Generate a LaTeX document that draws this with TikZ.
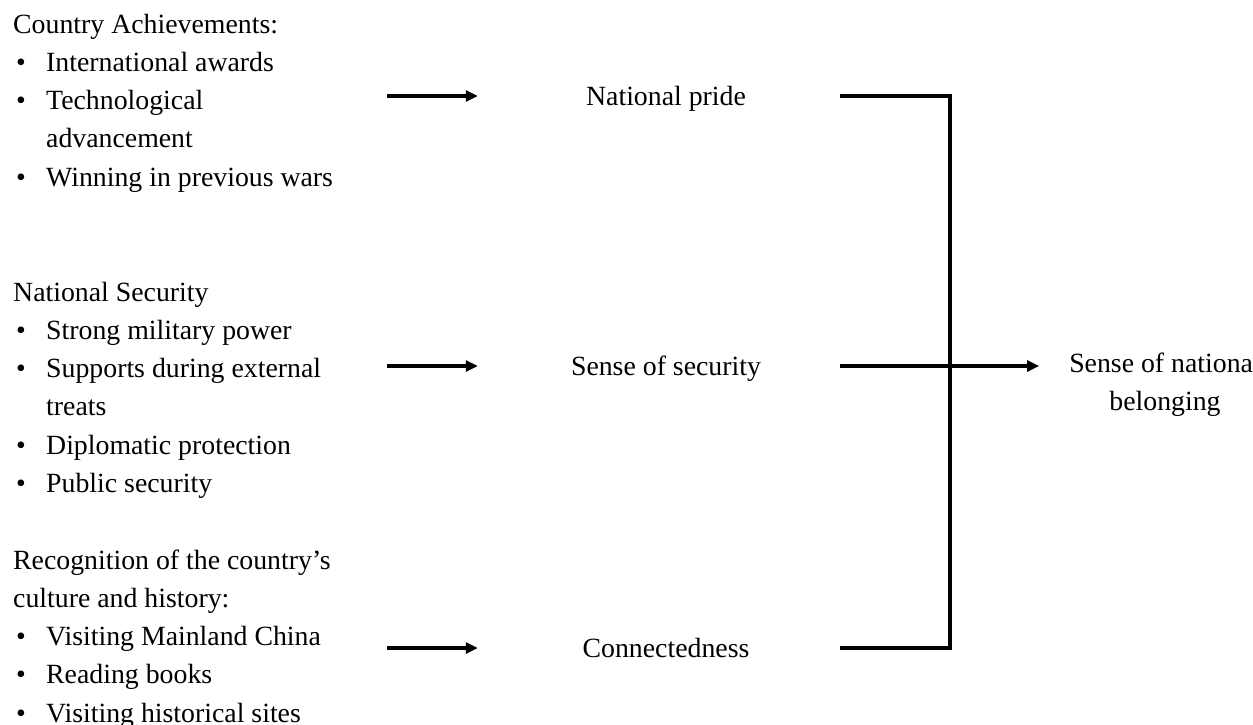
\documentclass[tikz,border=0pt]{standalone}
\usepackage{fontspec}
\setmainfont{Liberation Serif}
\usetikzlibrary{arrows.meta}

% bullet item, wrapped item line, one block of factors
\newcommand{\itm}[1]{\makebox[33pt][l]{\hspace{3pt}\textbullet}#1}
\newcommand{\cnt}[1]{\hspace{33pt}#1}
\newcommand{\grp}[1]{\makebox[323pt][l]{\begin{tabular}[t]{@{}l@{}}#1\end{tabular}}}

\tikzset{
  txt/.style={font=\fontsize{27.8}{38.3}\selectfont, inner sep=0pt},
  factor/.style={txt, anchor=base west},
  mid/.style={txt, minimum width=348pt, text height=18.7pt, text depth=0.5pt},
  feed/.style={line width=3.1pt, -{Triangle[length=12pt,width=11pt]}, shorten >=14pt},
  link/.style={line width=3.1pt},
}

\begin{document}
\begin{tikzpicture}[x=1pt,y=-1pt]
  \useasboundingbox (0,0) rectangle (1253,724);

  % -- factors on the left --
  \node[factor] (achv) at (13,33) {\grp{Country Achievements:\\
    \itm{International awards}\\
    \itm{Technological}\\
    \cnt{advancement}\\
    \itm{Winning in previous wars}}};
  \node[factor] (secu) at (13,301) {\grp{National Security\\
    \itm{Strong military power}\\
    \itm{Supports during external}\\
    \cnt{treats}\\
    \itm{Diplomatic protection}\\
    \itm{Public security}}};
  \node[factor] (cult) at (13,569) {\grp{Recognition of the country's\\
    culture and history:\\
    \itm{Visiting Mainland China}\\
    \itm{Reading books}\\
    \itm{Visiting historical sites}}};

  % -- middle column --
  \node[mid] (pride) at (666,96) {National pride};
  \node[mid] (safe) at (666,366) {Sense of security};
  \node[mid] (conn) at (666,648) {Connectedness};

  % -- outcome on the right --
  \node[txt, anchor=base, inner xsep=16pt] (belong) at (1165,372)
    {\begin{tabular}[t]{@{}c@{}}Sense of national\\belonging\end{tabular}};

  \coordinate (hub) at (950,366);

  % -- arrows --
  \draw[feed, shorten <=51pt] (achv.east |- pride) -- (pride.west);
  \draw[feed, shorten <=51pt] (secu.east |- safe) -- (safe.west);
  \draw[feed, shorten <=51pt] (cult.east |- conn) -- (conn.west);

  \draw[link] (pride.east) -| (hub) |- (conn.east);
  \draw[link] (safe.east) -- (hub);
  \draw[feed] (hub) -- (hub -| belong.west);
\end{tikzpicture}
\end{document}
